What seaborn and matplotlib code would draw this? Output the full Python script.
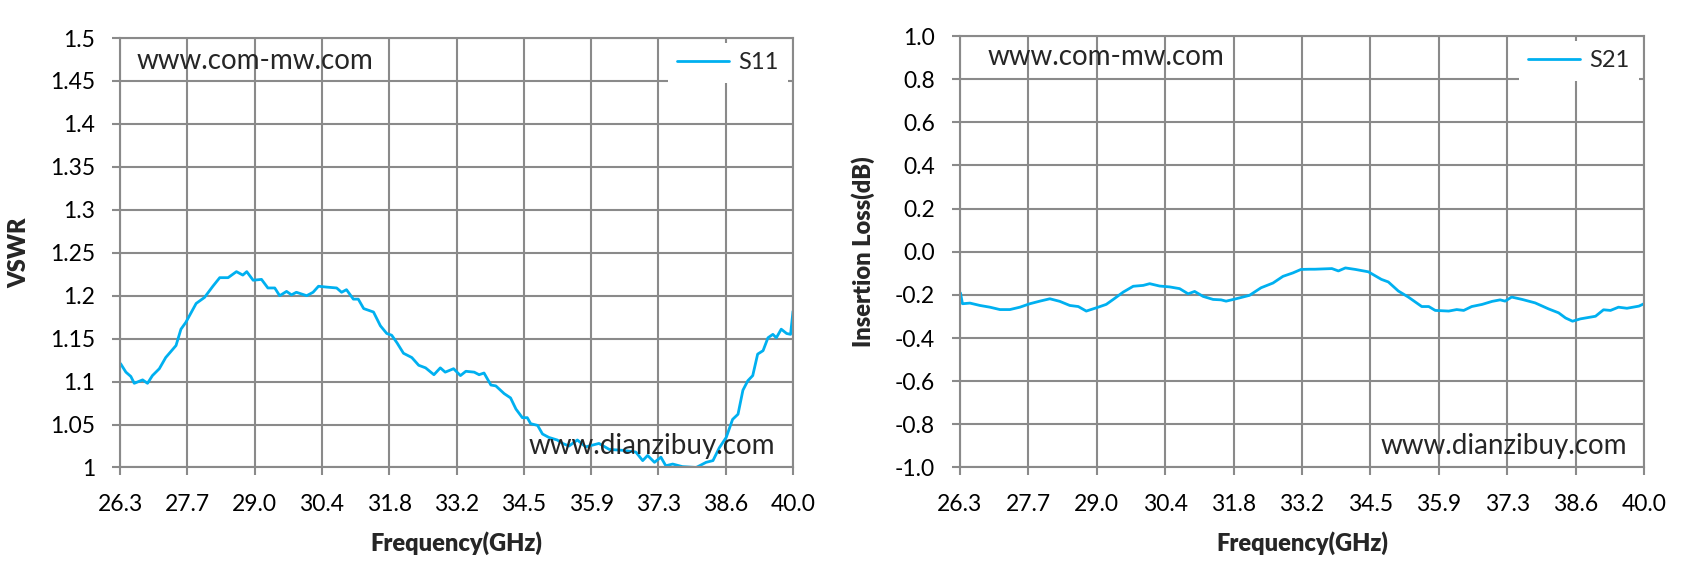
import numpy as np
import pandas as pd
import seaborn as sns
import matplotlib.pyplot as plt

# S11 (VSWR) trace
s11_freq = [26.31, 26.42, 26.52, 26.59, 26.76, 26.86, 26.96, 27.10, 27.23, 27.44,
            27.54, 27.64, 27.85, 28.02, 28.19, 28.33, 28.50, 28.67, 28.80, 28.88,
            29.01, 29.18, 29.31, 29.45, 29.55, 29.69, 29.79, 29.89, 30.10, 30.23,
            30.34, 30.51, 30.71, 30.81, 30.91, 31.05, 31.15, 31.26, 31.46, 31.60,
            31.73, 31.83, 31.94, 32.07, 32.24, 32.38, 32.52, 32.69, 32.82, 32.92,
            33.09, 33.23, 33.34, 33.51, 33.61, 33.71, 33.85, 33.95, 34.12, 34.25,
            34.36, 34.49, 34.59, 34.66, 34.80, 34.90, 35.03, 35.20, 35.31, 35.44,
            35.61, 35.78, 36.05, 36.26, 36.53, 36.80, 36.94, 37.04, 37.18, 37.31,
            37.41, 37.55, 37.75, 38.03, 38.23, 38.37, 38.50, 38.64, 38.77, 38.88,
            38.98, 39.08, 39.18, 39.28, 39.39, 39.49, 39.59, 39.66, 39.76, 39.87,
            39.95, 40.00]
s11_vswr = [1.121, 1.111, 1.106, 1.098, 1.102, 1.098, 1.107, 1.115, 1.128, 1.142,
            1.161, 1.169, 1.191, 1.198, 1.211, 1.221, 1.221, 1.228, 1.224, 1.228,
            1.218, 1.219, 1.209, 1.209, 1.200, 1.205, 1.201, 1.204, 1.200, 1.204,
            1.211, 1.210, 1.209, 1.204, 1.207, 1.196, 1.196, 1.185, 1.181, 1.165,
            1.156, 1.154, 1.145, 1.133, 1.128, 1.119, 1.116, 1.108, 1.116, 1.111,
            1.115, 1.107, 1.112, 1.111, 1.108, 1.110, 1.096, 1.095, 1.086, 1.081,
            1.068, 1.058, 1.058, 1.051, 1.049, 1.039, 1.035, 1.032, 1.028, 1.025,
            1.032, 1.024, 1.028, 1.021, 1.020, 1.018, 1.008, 1.014, 1.006, 1.012,
            1.002, 1.004, 1.001, 1.000, 1.006, 1.008, 1.023, 1.035, 1.056, 1.062,
            1.090, 1.101, 1.107, 1.132, 1.136, 1.151, 1.155, 1.151, 1.161, 1.156,
            1.155, 1.182]

# S21 (insertion loss) trace
s21_freq = [26.31, 26.35, 26.50, 26.70, 26.90, 27.10, 27.30, 27.50, 27.70, 27.90,
            28.10, 28.30, 28.50, 28.67, 28.83, 29.03, 29.23, 29.37, 29.57, 29.77,
            29.97, 30.10, 30.30, 30.50, 30.70, 30.87, 31.00, 31.17, 31.37, 31.53,
            31.63, 31.83, 32.10, 32.33, 32.57, 32.77, 32.97, 33.13, 33.30, 33.41,
            33.75, 33.88, 34.02, 34.22, 34.48, 34.74, 34.88, 35.08, 35.28, 35.55,
            35.69, 35.82, 36.09, 36.25, 36.39, 36.55, 36.76, 36.96, 37.12, 37.22,
            37.35, 37.56, 37.82, 38.09, 38.29, 38.43, 38.57, 38.73, 39.03, 39.19,
            39.33, 39.49, 39.66, 39.90, 40.00]
s21_loss = [-0.191, -0.241, -0.238, -0.249, -0.257, -0.268, -0.268, -0.257, -0.241, -0.229,
            -0.218, -0.230, -0.249, -0.254, -0.275, -0.260, -0.244, -0.221, -0.187, -0.160,
            -0.156, -0.148, -0.159, -0.163, -0.171, -0.195, -0.184, -0.207, -0.221, -0.223,
            -0.229, -0.218, -0.202, -0.167, -0.145, -0.114, -0.098, -0.082, -0.081, -0.081,
            -0.078, -0.089, -0.075, -0.082, -0.093, -0.128, -0.140, -0.182, -0.210, -0.254,
            -0.254, -0.272, -0.275, -0.268, -0.272, -0.254, -0.244, -0.230, -0.223, -0.229,
            -0.210, -0.221, -0.237, -0.265, -0.283, -0.307, -0.322, -0.311, -0.299, -0.269,
            -0.272, -0.257, -0.262, -0.252, -0.241]

freq_ticks = ["26.3", "27.7", "29.0", "30.4", "31.8", "33.2", "34.5", "35.9", "37.3", "38.6", "40.0"]

df11 = pd.DataFrame({"freq": s11_freq, "val": s11_vswr})
df21 = pd.DataFrame({"freq": s21_freq, "val": s21_loss})

sns.set_style("white")
plt.rcParams['font.family'] = ['Lato', 'DejaVu Sans']
plt.rcParams['axes.unicode_minus'] = False

line_col = "#00B0F0"
grid_col = "#8A8A8A"
fs = 16.5      # tick labels
fs_lab = 17    # axis titles
fs_txt = 20    # watermark text

fig = plt.figure(figsize=(16.88, 5.77), dpi=100)
ax1 = fig.add_axes([0.0711, 0.1898, 0.3987, 0.7443])
ax2 = fig.add_axes([0.5687, 0.1898, 0.4052, 0.7478])

def style_axis(ax, ylab):
    ax.set_xlim(26.3, 40.0)
    ax.set_xticks(np.linspace(26.3, 40.0, len(freq_ticks)))
    ax.set_xticklabels(freq_ticks)
    ax.grid(True, color=grid_col, linewidth=1.5)
    ax.set_axisbelow(True)
    for sp in ax.spines.values():
        sp.set_visible(True)
        sp.set_color(grid_col)
        sp.set_linewidth(1.5)
    ax.tick_params(axis="both", direction="out", length=6, width=1.5, color=grid_col,
                   labelsize=fs, labelcolor="black", bottom=True, left=True)
    ax.tick_params(axis="y", pad=12)
    ax.tick_params(axis="x", pad=13)
    ax.set_xlabel("Frequency(GHz)", fontsize=fs_lab, fontweight="heavy", labelpad=12)
    ax.set_ylabel(ylab, fontsize=fs_lab, fontweight="heavy", labelpad=14)
    leg = ax.legend(loc="upper right", fontsize=fs_lab, frameon=True, fancybox=False,
                    framealpha=1, edgecolor="none", handlelength=2.2,
                    borderaxespad=0.2, handletextpad=0.4)
    leg.get_frame().set_facecolor("white")

sns.lineplot(data=df11, x="freq", y="val", ax=ax1, color=line_col, linewidth=2.0, label="S11")
ax1.set_ylim(1.0, 1.5)
ax1.set_yticks(np.arange(1.0, 1.5001, 0.05))
ax1.yaxis.set_major_formatter(lambda v, p: f"{v:g}")
style_axis(ax1, "VSWR")
ax1.text(0.025, 0.946, "www.com-mw.com", transform=ax1.transAxes, fontsize=fs_txt, va="center", ha="left")
ax1.text(0.973, 0.051, "www.dianzibuy.com", transform=ax1.transAxes, fontsize=fs_txt, va="center", ha="right")

sns.lineplot(data=df21, x="freq", y="val", ax=ax2, color=line_col, linewidth=2.0, label="S21")
ax2.set_ylim(-1.0, 1.0)
ax2.set_yticks(np.arange(-1.0, 1.0001, 0.2))
ax2.yaxis.set_major_formatter(lambda v, p: f"{v + 0.0:.1f}".replace("-0.0", "0.0"))
style_axis(ax2, "Insertion Loss(dB)")
ax2.text(0.04, 0.951, "www.com-mw.com", transform=ax2.transAxes, fontsize=fs_txt, va="center", ha="left")
ax2.text(0.976, 0.049, "www.dianzibuy.com", transform=ax2.transAxes, fontsize=fs_txt, va="center", ha="right")

fig.savefig("out.png", dpi=100, facecolor="white")
